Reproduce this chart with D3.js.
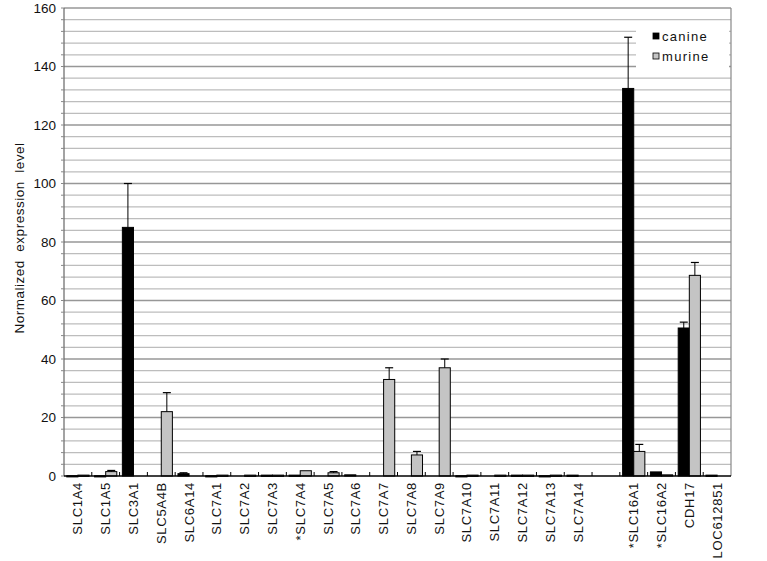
<!DOCTYPE html>
<html>
<head>
<meta charset="utf-8">
<script src="https://d3js.org/d3.v7.min.js"></script>
<style>
  body { margin: 0; background: #fff; }
  svg text { font-family: "Liberation Sans", Arial, sans-serif; fill: #111; }
</style>
</head>
<body>
<div id="viz"></div>
<script>
// gene labels, "" is the empty slot before the SLC16 group
var genes = ["SLC1A4","SLC1A5","SLC3A1","SLC5A4B","SLC6A14","SLC7A1","SLC7A2","SLC7A3","*SLC7A4","SLC7A5","SLC7A6","SLC7A7","SLC7A8","SLC7A9","SLC7A10","SLC7A11","SLC7A12","SLC7A13","SLC7A14","","*SLC16A1","*SLC16A2","CDH17","LOC612851"];
var canine    = [0.1, 0.1, 85, 0, 0.8, 0.1, 0, 0.3, 0.3, 0, 0.4, 0, 0, 0, 0.1, 0, 0.3, 0.1, 0.3, 0, 132.5, 1.4, 50.6, 0.3];
var canineErr = [0, 0, 15, 0, 0.3, 0, 0, 0, 0, 0, 0, 0, 0, 0, 0, 0, 0, 0, 0, 0, 17.5, 0, 2, 0];
var murine    = [0.3, 1.5, 0, 22, 0, 0.3, 0.3, 0.3, 1.8, 1.1, 0, 33, 7.2, 37, 0.3, 0.3, 0.3, 0.3, 0, 0, 8.4, 0.4, 68.6, 0];
var murineErr = [0, 0.4, 0, 6.5, 0, 0, 0, 0, 0, 0.4, 0, 4, 1.2, 3, 0, 0, 0, 0, 0, 0, 2.4, 0, 4.4, 0];
var series = ["canine", "murine"];
var yTicks = [0, 20, 40, 60, 80, 100, 120, 140, 160];

var W = 767, H = 561;
var margin = {top: 8, right: 36, bottom: 85, left: 64};
var width = W - margin.left - margin.right,
    height = H - margin.top - margin.bottom;

var svg = d3.select("#viz").append("svg").attr("width", W).attr("height", H);
var g = svg.append("g").attr("transform", "translate(" + margin.left + "," + margin.top + ")");

var x = d3.scaleBand().domain(d3.range(genes.length)).range([0, width]);
var x1 = d3.scaleBand().domain(series).range([0, x.bandwidth()]).paddingInner(0).paddingOuter(0.25);
var y = d3.scaleLinear().domain([0, 160]).range([height, 0]);
var color = d3.scaleOrdinal().domain(series).range(["#000", "#c4c4c4"]);

// grid: light every 4, darker every 20
var minor = d3.range(4, 160, 4).filter(function(v){ return v % 20 !== 0; });
g.append("g").selectAll("line").data(minor).enter().append("line")
    .attr("x1", 0).attr("x2", width)
    .attr("y1", function(d){ return y(d); }).attr("y2", function(d){ return y(d); })
    .style("stroke", "#bdbdbd").style("stroke-width", 1.3);
g.append("g").selectAll("line").data(yTicks.slice(1)).enter().append("line")
    .attr("x1", 0).attr("x2", width)
    .attr("y1", function(d){ return y(d); }).attr("y2", function(d){ return y(d); })
    .style("stroke", "#979797").style("stroke-width", 1.5);

// plot frame right side
g.append("line").attr("x1", width).attr("x2", width).attr("y1", 0).attr("y2", height)
    .style("stroke", "#888").style("stroke-width", 1.2);

// legend box (white, no border)
var leg = g.append("g").attr("transform", "translate(" + (width - 95) + ",14)");
leg.append("rect").attr("width", 93).attr("height", 52).style("fill", "#fff");
series.forEach(function(s, i){
  var row = leg.append("g").attr("transform", "translate(17," + (11 + i * 20) + ")");
  row.append("rect").attr("width", 6).attr("height", 6)
      .style("fill", color(s)).style("stroke", "#000").style("stroke-width", 0.8);
  row.append("text").attr("x", 9).attr("y", 7.5).text(s)
      .style("font-size", "13px").style("letter-spacing", "1.3px");
});

// y axis labels
var yAxis = d3.axisLeft(y).tickValues(yTicks).tickSize(0).tickPadding(8);
var ya = g.append("g").call(yAxis);
ya.select(".domain").remove();
ya.selectAll("text").style("font-size", "13.5px").style("font-family", "Liberation Sans, Arial, sans-serif").style("fill", "#111");
g.append("line").attr("x1", 0).attr("x2", 0).attr("y1", 0).attr("y2", height)
    .style("stroke", "#666").style("stroke-width", 1.2);
g.append("g").selectAll("line").data(d3.range(0, 161, 4)).enter().append("line")
    .attr("x1", -3).attr("x2", 0)
    .attr("y1", function(d){ return y(d); }).attr("y2", function(d){ return y(d); })
    .style("stroke", "#888");

g.append("text")
    .attr("transform", "translate(" + (-40) + "," + (height / 2 - 4) + ") rotate(-90)")
    .style("text-anchor", "middle").style("font-size", "13.5px").style("letter-spacing", "0.5px")
    .style("white-space", "pre")
    .text("Normalized  expression  level");

// bars
var rows = genes.map(function(n, i){
  return [
    {s: "canine", i: i, v: canine[i], e: canineErr[i]},
    {s: "murine", i: i, v: murine[i], e: murineErr[i]}
  ];
});
var grp = g.append("g").selectAll("g").data(rows).enter().append("g")
    .attr("transform", function(d, i){ return "translate(" + x(i) + ",0)"; });

grp.selectAll("rect").data(function(d){ return d.filter(function(b){ return b.v > 0; }); })
  .enter().append("rect")
    .attr("x", function(d){ return x1(d.s); })
    .attr("width", x1.bandwidth())
    .attr("y", function(d){ return y(d.v); })
    .attr("height", function(d){ return Math.max(1.2, height - y(d.v)); })
    .style("fill", function(d){ return color(d.s); })
    .style("stroke", "#000").style("stroke-width", 1);

// error bars (upper only)
var err = grp.selectAll("g.err").data(function(d){ return d.filter(function(b){ return b.e > 0; }); })
  .enter().append("g").attr("class", "err");
err.append("line")
    .attr("x1", function(d){ return x1(d.s) + x1.bandwidth() / 2; })
    .attr("x2", function(d){ return x1(d.s) + x1.bandwidth() / 2; })
    .attr("y1", function(d){ return y(d.v); })
    .attr("y2", function(d){ return y(d.v + d.e); })
    .style("stroke", "#000").style("stroke-width", 1);
err.append("line")
    .attr("x1", function(d){ return x1(d.s) + x1.bandwidth() / 2 - 4; })
    .attr("x2", function(d){ return x1(d.s) + x1.bandwidth() / 2 + 4; })
    .attr("y1", function(d){ return y(d.v + d.e); })
    .attr("y2", function(d){ return y(d.v + d.e); })
    .style("stroke", "#000").style("stroke-width", 1.2);

// x axis
g.append("line").attr("x1", 0).attr("x2", width).attr("y1", height).attr("y2", height)
    .style("stroke", "#000").style("stroke-width", 1.5);
g.append("g").selectAll("line").data(d3.range(1, genes.length)).enter().append("line")
    .attr("x1", function(d){ return x(d); }).attr("x2", function(d){ return x(d); })
    .attr("y1", height).attr("y2", height - 4)
    .style("stroke", "#000");

g.append("g").selectAll("text").data(genes).enter().append("text")
    .attr("transform", function(d, i){
      return "translate(" + (x(i) + x.bandwidth() / 2 + 4.5) + "," + (height + 6) + ") rotate(-90)";
    })
    .style("text-anchor", "end").style("font-size", "13px").style("letter-spacing", "0.7px")
    .text(function(d){ return d; });
</script>
</body>
</html>
